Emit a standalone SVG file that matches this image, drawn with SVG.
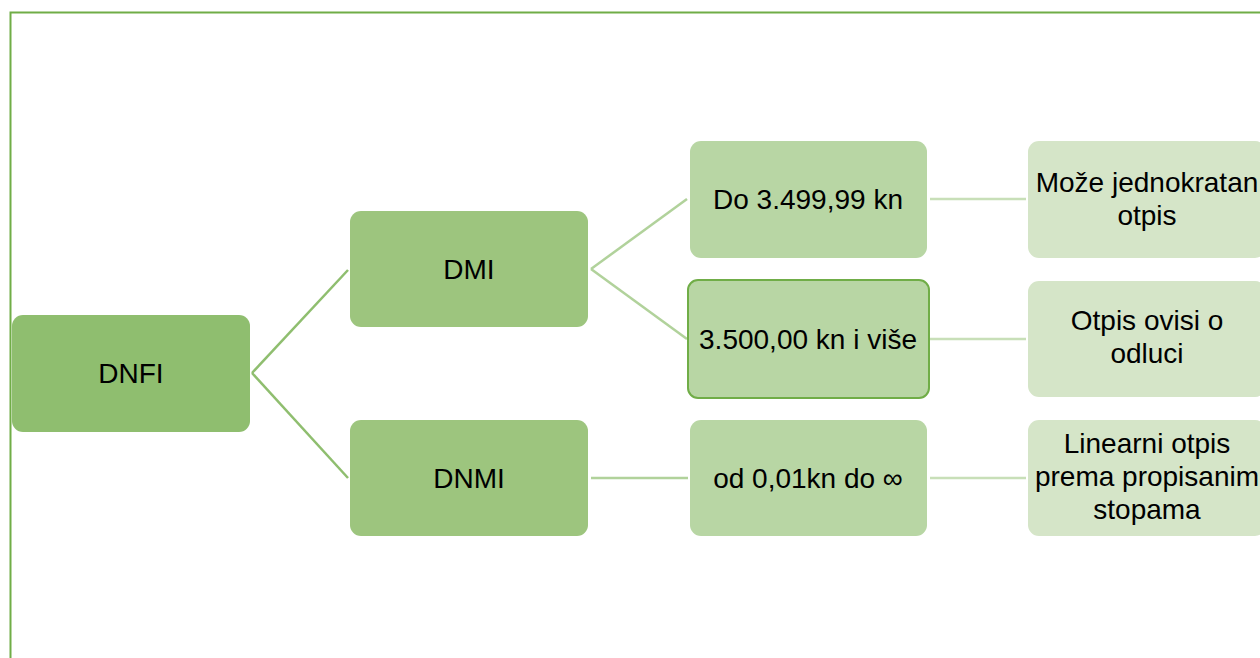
<svg xmlns="http://www.w3.org/2000/svg" width="1260" height="658" viewBox="0 0 1260 658">
<style>
text{font-family:"Liberation Sans",Arial,sans-serif;font-size:28px;fill:#000;text-anchor:middle}
.l1{fill:#8fbe6f}
.l2{fill:#9dc57e}
.l3{fill:#b8d6a4}
.l4{fill:#d5e5c8}
.c1{stroke:#8fbe6f;stroke-width:2.5;fill:none}
.c2{stroke:#b1d29b;stroke-width:2.5;fill:none}
.c3{stroke:#c8dfb8;stroke-width:2.5;fill:none}
</style>
<rect width="1260" height="658" fill="#ffffff"/>
<path d="M10.5,658 V12.5 H1260" fill="none" stroke="#70ad47" stroke-width="2"/>
<g id="connectors">
<path class="c1" d="M252,373 L348,270"/>
<path class="c1" d="M252,373 L348,478"/>
<path class="c2" d="M591,269 L687,199"/>
<path class="c2" d="M591,269 L687,339"/>
<path class="c2" d="M591,478 L688,478"/>
<path class="c3" d="M930,199 L1026,199"/>
<path class="c3" d="M930,339 L1026,339"/>
<path class="c3" d="M930,478 L1026,478"/>
</g>
<g id="dnfi"><rect class="l1" x="12" y="315" width="238" height="117" rx="11"/><text x="131" y="383">DNFI</text></g>
<g id="dmi"><rect class="l2" x="350" y="211" width="238" height="116" rx="11"/><text x="469" y="279">DMI</text></g>
<g id="dnmi"><rect class="l2" x="350" y="420" width="238" height="116" rx="11"/><text x="469" y="488">DNMI</text></g>
<g id="do"><rect class="l3" x="690" y="141" width="237" height="117" rx="11"/><text x="808" y="209">Do 3.499,99 kn</text></g>
<g id="vise"><rect class="l3" x="688" y="280" width="241" height="118" rx="10" stroke="#70ad47" stroke-width="2"/><text x="808" y="349">3.500,00 kn i više</text></g>
<g id="od"><rect class="l3" x="690" y="420" width="237" height="116" rx="11"/><text x="808" y="488">od 0,01kn do ∞</text></g>
<g id="moze"><rect class="l4" x="1028" y="141" width="238" height="117" rx="11"/><text x="1147" y="192">Može jednokratan</text><text x="1147" y="225">otpis</text></g>
<g id="ovisi"><rect class="l4" x="1028" y="281" width="238" height="116" rx="11"/><text x="1147" y="330">Otpis ovisi o</text><text x="1147" y="363">odluci</text></g>
<g id="linearni"><rect class="l4" x="1028" y="420" width="238" height="116" rx="11"/><text x="1147" y="453">Linearni otpis</text><text x="1147" y="486">prema propisanim</text><text x="1147" y="519">stopama</text></g>
</svg>
